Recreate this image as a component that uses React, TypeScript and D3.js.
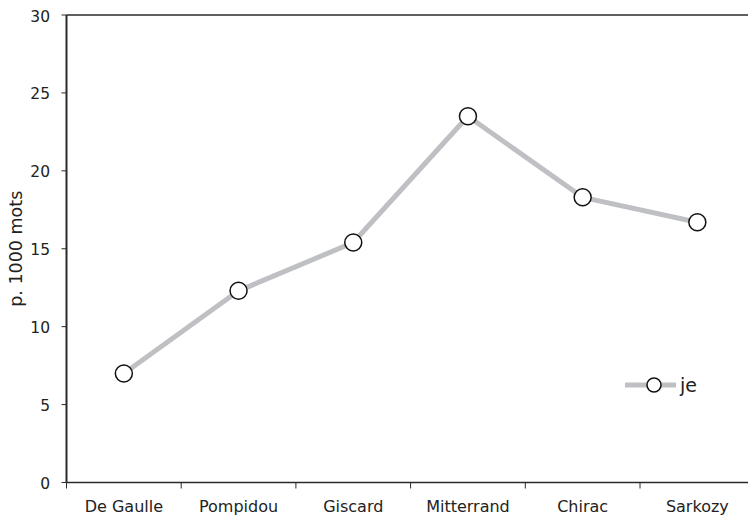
import React from "react";
import * as d3 from "d3";

const categories = ["De Gaulle", "Pompidou", "Giscard", "Mitterrand", "Chirac", "Sarkozy"];
const values = [7.0, 12.3, 15.4, 23.5, 18.3, 16.7];
const yTicks = [0, 5, 10, 15, 20, 25, 30];
const seriesName = "je";
const yTitle = "p. 1000 mots";

const W = 748;
const H = 516;
const left = 66.5;
const bandW = 114.7;
const top = 15;
const bottom = 482.5;

export default function App() {
  const x = d3.scaleBand<string>().domain(categories).range([left, left + bandW * categories.length]).padding(0);
  const y = d3.scaleLinear().domain([0, 30]).range([bottom, top]);
  const line = d3
    .line<number>()
    .x((_, i) => (x(categories[i]) as number) + x.bandwidth() / 2)
    .y((d) => y(d));
  const font = "'DejaVu Sans', Verdana, sans-serif";
  const lineColor = "#bfc0c4";
  const axisColor = "#2a2a2a";
  return (
    <svg width={W} height={H} style={{ position: "absolute", left: 0, top: 0 }} fontFamily={font}>
      <rect width={W} height={H} fill="#fff" />
      {/* top border */}
      <line x1={left} x2={W} y1={y(30)} y2={y(30)} stroke={axisColor} strokeWidth={1.5} />
      {/* x axis */}
      <line x1={left} x2={W} y1={y(0)} y2={y(0)} stroke={axisColor} strokeWidth={1.5} />
      {categories.map((c) => (
        <g key={c}>
          <line x1={x(c)} x2={x(c)} y1={y(0)} y2={y(0) + 6} stroke={axisColor} strokeWidth={1} />
          <text
            x={(x(c) as number) + x.bandwidth() / 2}
            y={y(0) + 29}
            textAnchor="middle"
            fontSize={16}
            fill="#222"
          >
            {c}
          </text>
        </g>
      ))}
      {/* y axis */}
      <line x1={left} x2={left} y1={y(30)} y2={y(0)} stroke={axisColor} strokeWidth={2} />
      {yTicks.map((t) => (
        <g key={t}>
          <line x1={left - 5} x2={left} y1={y(t)} y2={y(t)} stroke={axisColor} strokeWidth={1} />
          <text x={50} y={y(t) + 6.5} textAnchor="end" fontSize={15.5} fill="#222">
            {t}
          </text>
        </g>
      ))}
      <text
        transform={`translate(16,${(y(0) + y(30)) / 2}) rotate(-90)`}
        textAnchor="middle"
        dy="0.35em"
        fontSize={17.5}
        fill="#222"
      >
        {yTitle}
      </text>
      {/* series */}
      <path d={line(values) || ""} fill="none" stroke={lineColor} strokeWidth={5} strokeLinejoin="round" />
      {values.map((v, i) => (
        <circle
          key={i}
          cx={(x(categories[i]) as number) + x.bandwidth() / 2}
          cy={y(v)}
          r={8.5}
          fill="#fff"
          stroke="#111"
          strokeWidth={1.5}
        />
      ))}
      {/* legend */}
      <line x1={625} x2={676} y1={385} y2={385} stroke={lineColor} strokeWidth={5} />
      <circle cx={654} cy={385} r={7} fill="#fff" stroke="#111" strokeWidth={1.5} />
      <text x={680} y={385} dy="0.35em" fontSize={19} fill="#222">
        {seriesName}
      </text>
    </svg>
  );
}
